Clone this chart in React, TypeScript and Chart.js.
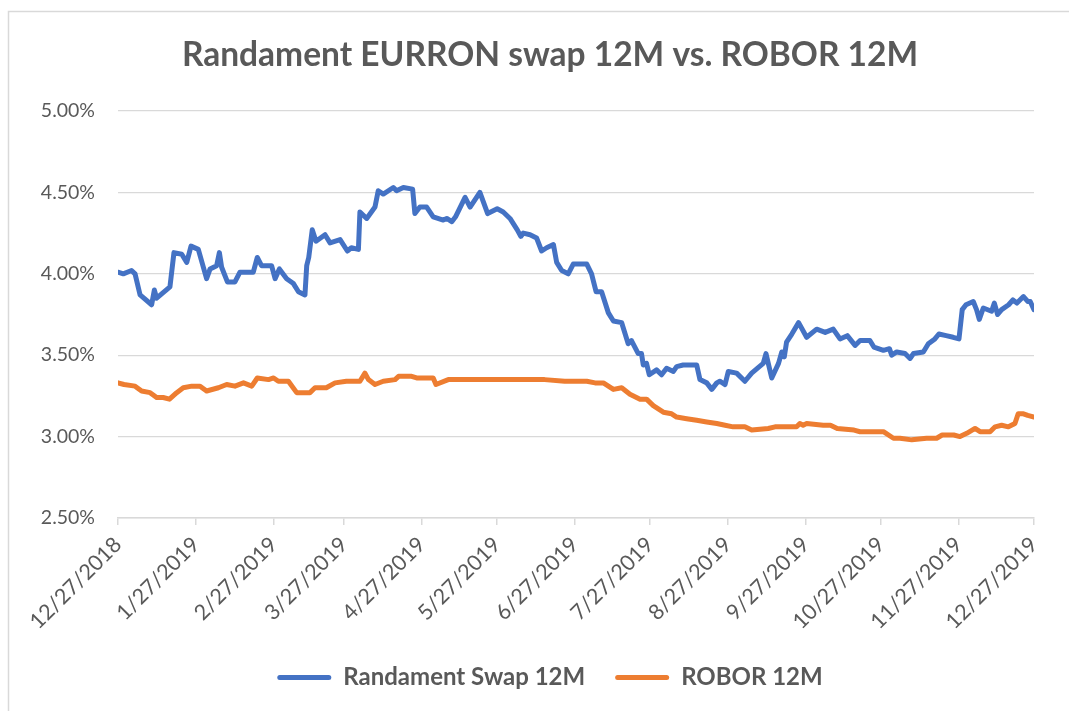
import React, { useEffect, useRef } from 'react';
import { Chart, registerables } from 'chart.js';

Chart.register(...registerables);

// x values are days since 12/27/2018
const swapDays = [
  0, 2.1, 5.4, 6.8, 8.8, 13.4, 14.5, 15.4, 20.7, 22.3, 25.4, 27.4, 29.1, 32, 35.3, 36.7, 39.3, 40.4, 41.3, 43.6,
  46.6, 48.6, 53.9, 55.5, 57.2, 61.2, 62.6, 64.3, 67.2, 69.9, 71.9, 74.5, 75.2, 76, 77.4, 78.9, 82.5, 84.5, 88.5,
  91.4, 93, 95.8, 96.4, 99.1, 102.4, 103.7, 105.7, 109.7, 111, 113.7, 117.4, 118.3, 120.3, 123, 125.6, 129.6, 131,
  133, 134.5, 138.3, 140.3, 144.2, 147.3, 151.1, 153.5, 156.2, 159.1, 160.5, 161.5, 164.2, 166.8, 168.8, 170.8,
  173.5, 174.8, 176.8, 179.4, 181.4, 186.8, 188.7, 190.5, 192.7, 195.4, 197.4, 200.7, 203.3, 204.6, 207.3, 208.6,
  209.3, 210.6, 211.7, 214.6, 216.6, 218.6, 221.3, 222.6, 225.2, 230.6, 231.9, 234.6, 236.6, 238.6, 239.8, 241.9,
  243.2, 246.5, 249.8, 252.5, 257.1, 258.2, 260.5, 263.2, 264.5, 265.5, 266.4, 268.5, 271.2, 274.4, 278.4, 281.8,
  285, 287.7, 290.6, 293.7, 295.7, 299.6, 301.2, 305, 307.4, 308.3, 310.3, 313.6, 315.6, 317, 320.9, 322.9, 325.5,
  327.1, 330, 332.8, 335.1, 336.4, 337.9, 340.8, 342.1, 343.2, 344.8, 348.1, 349.2, 350.5, 352.1, 354.9, 356.6,
  358.2, 360.8, 362.5, 363.5, 365,
];
const swapValues = [
  4.01, 4.0, 4.02, 4.0, 3.87, 3.81, 3.9, 3.85, 3.92, 4.13, 4.12, 4.07, 4.17, 4.15, 3.97, 4.03, 4.05, 4.13, 4.04, 3.95,
  3.95, 4.01, 4.01, 4.1, 4.05, 4.05, 3.97, 4.03, 3.97, 3.94, 3.89, 3.87, 4.05, 4.1, 4.27, 4.2, 4.24, 4.19, 4.21,
  4.14, 4.16, 4.15, 4.38, 4.34, 4.41, 4.51, 4.49, 4.53, 4.51, 4.53, 4.52, 4.37, 4.41, 4.41, 4.35, 4.33, 4.34,
  4.32, 4.35, 4.47, 4.41, 4.5, 4.37, 4.4, 4.38, 4.34, 4.27, 4.23, 4.25, 4.24, 4.22, 4.14, 4.16,
  4.18, 4.07, 4.02, 4.0, 4.06, 4.06, 4.0, 3.89, 3.89, 3.76, 3.71, 3.7, 3.57, 3.59, 3.51, 3.51,
  3.44, 3.45, 3.38, 3.41, 3.38, 3.42, 3.4, 3.43, 3.44, 3.44, 3.35, 3.33, 3.29, 3.33, 3.34, 3.32,
  3.4, 3.39, 3.34, 3.39, 3.45, 3.51, 3.36, 3.45, 3.52, 3.49, 3.58, 3.63, 3.7, 3.61, 3.66, 3.64,
  3.66, 3.6, 3.62, 3.56, 3.59, 3.59, 3.55, 3.53, 3.54, 3.5, 3.52, 3.51, 3.48, 3.51, 3.52, 3.57, 3.6,
  3.63, 3.62, 3.61, 3.6, 3.78, 3.81, 3.83, 3.78, 3.72, 3.79, 3.77, 3.82, 3.75, 3.78, 3.81, 3.84,
  3.82, 3.86, 3.83, 3.83, 3.78,
];

const roborDays = [
  0, 2.4, 6.8, 9.4, 12.8, 15.4, 18, 20.5, 23.4, 26, 29.4, 32.7, 35.3, 40, 43.3, 46.6, 50, 53.3, 55.5, 60, 62, 63.9,
  67.9, 71.2, 75.2, 76.5, 78.5, 83, 86.5, 91, 96.4, 98.4, 99.8, 102.4, 105.7, 110.4, 111.8, 117, 119, 125.6, 126.7,
  131.6, 140, 160, 170, 178, 186.8, 190.1, 193.4, 197.4, 200.7, 204, 208, 210.6, 213.3, 217.3, 220.6, 222.6, 226.6,
  230.6, 234.6, 238.6, 241.9, 245.1, 249.8, 252.5, 259.1, 261.8, 270.4, 271.7, 273, 274.4, 281, 283.9, 286.6, 293.3,
  295.7, 305, 309, 311.6, 316.3, 322.2, 326.2, 328.4, 333, 335.5, 338.2, 341.5, 343.5, 347.5, 349.5, 352.1, 354.8,
  357.4, 358.7, 360.8, 362.5, 365,
];
const roborValues = [
  3.33, 3.32, 3.31, 3.28, 3.27, 3.24, 3.24, 3.23, 3.27, 3.3, 3.31, 3.31, 3.28, 3.3, 3.32, 3.31, 3.33, 3.31, 3.36, 3.35, 3.36, 3.34,
  3.34, 3.27, 3.27, 3.27, 3.3, 3.3, 3.33, 3.34, 3.34, 3.39, 3.35, 3.32, 3.34, 3.35, 3.37, 3.37, 3.36, 3.36, 3.32,
  3.35, 3.35, 3.35, 3.35, 3.34, 3.34, 3.33, 3.33, 3.29, 3.3, 3.26, 3.23, 3.23, 3.19, 3.15, 3.14, 3.12, 3.11,
  3.1, 3.09, 3.08, 3.07, 3.06, 3.06, 3.04, 3.05, 3.06, 3.06, 3.08, 3.07, 3.08, 3.07, 3.07, 3.05, 3.04,
  3.03, 3.03, 2.99, 2.99, 2.98, 2.99, 2.99, 3.01, 3.01, 3.0, 3.02, 3.05, 3.03, 3.03, 3.06, 3.07, 3.06,
  3.08, 3.14, 3.14, 3.13, 3.12,
];

const tickDays = [0, 31, 62, 90, 121, 151, 182, 212, 243, 274, 304, 335, 365];
const tickLabels = [
  '12/27/2018', '1/27/2019', '2/27/2019', '3/27/2019', '4/27/2019', '5/27/2019', '6/27/2019',
  '7/27/2019', '8/27/2019', '9/27/2019', '10/27/2019', '11/27/2019', '12/27/2019',
];
const yTickValues = [2.5, 3.0, 3.5, 4.0, 4.5, 5.0];

const seriesNames = ['Randament Swap 12M', 'ROBOR 12M'];
const seriesColors = ['#4472C4', '#ED7D31'];
const titleText = 'Randament EURRON swap 12M vs. ROBOR 12M';

export default function App() {
  const ref = useRef<HTMLCanvasElement>(null);

  useEffect(() => {
    const TEXT = '#595959';
    const GRID = '#d9d9d9';
    const FONT = 'Lato, "Open Sans", sans-serif';

    const frame = {
      id: 'frame',
      beforeDraw(c: any) {
        const ctx = c.ctx;
        ctx.save();
        ctx.fillStyle = '#ffffff';
        ctx.fillRect(0, 0, c.width, c.height);
        ctx.strokeStyle = GRID;
        ctx.lineWidth = 1.5;
        ctx.strokeRect(8.5, 11.5, 1300, 1000);
        ctx.restore();
      },
    };

    const mk = (days: number[], vals: number[], i: number) => ({
      label: seriesNames[i],
      data: days.map((d, k) => ({ x: d, y: vals[k] })),
      borderColor: seriesColors[i],
      backgroundColor: seriesColors[i],
      borderWidth: 5,
      pointRadius: 0,
      tension: 0,
      borderCapStyle: 'round',
      borderJoinStyle: 'round',
    });

    const chart = new Chart(ref.current as HTMLCanvasElement, {
      type: 'line',
      data: {
        datasets: [mk(swapDays, swapValues, 0), mk(roborDays, roborValues, 1)] as any,
      },
      plugins: [frame],
      options: {
        animation: false,
        responsive: false,
        events: [],
        layout: { padding: { left: 31, right: 0, top: 0, bottom: 11.5 } },
        plugins: {
          title: {
            display: true,
            text: titleText,
            color: TEXT,
            font: { family: FONT, size: 33.5, weight: 'bold', lineHeight: 1.2 },
            padding: { top: 35, bottom: 35.8 },
          },
          legend: {
            position: 'bottom',
            labels: {
              color: TEXT,
              font: { family: FONT, size: 24, weight: 'bold' },
              boxWidth: 54,
              boxHeight: 5,
              padding: 30,
              generateLabels: (c: any) =>
                c.data.datasets.map((ds: any, i: number) => ({
                  text: ds.label,
                  fillStyle: ds.borderColor,
                  strokeStyle: ds.borderColor,
                  lineWidth: 0,
                  borderRadius: 2.5,
                  hidden: false,
                  datasetIndex: i,
                  fontColor: TEXT,
                })),
            },
          },
          tooltip: { enabled: false },
        },
        scales: {
          x: {
            type: 'linear',
            min: 0,
            max: 365,
            afterBuildTicks: (s: any) => {
              s.ticks = tickDays.map((v) => ({ value: v }));
            },
            afterFit: (s: any) => {
              s.height = 117.5;
            },
            ticks: {
              autoSkip: false,
              maxRotation: 45,
              minRotation: 45,
              color: TEXT,
              font: { family: FONT, size: 21.5 },
              padding: 7,
              callback: (_v: any, i: number) => tickLabels[i],
            },
            grid: { drawOnChartArea: false, color: GRID, tickLength: 7, lineWidth: 1.5 },
            border: { color: GRID, width: 1.5 },
          },
          y: {
            min: 2.5,
            max: 5,
            afterBuildTicks: (s: any) => {
              s.ticks = yTickValues.map((v) => ({ value: v }));
            },
            afterFit: (s: any) => {
              s.width = 87;
            },
            ticks: {
              color: TEXT,
              font: { family: FONT, size: 19.5 },
              padding: 23,
              callback: (v: any) => Number(v).toFixed(2) + '%',
            },
            grid: { color: GRID, lineWidth: 1.2, drawTicks: false },
            border: { display: false },
          },
          yRight: {
            position: 'right',
            min: 0,
            max: 1,
            afterFit: (s: any) => {
              s.width = 35;
            },
            ticks: { display: false },
            grid: { display: false, drawTicks: false },
            border: { display: false },
          },
        },
      } as any,
    });
    return () => chart.destroy();
  }, []);

  return (
    <div style={{ position: 'absolute', left: 0, top: 0, width: 1069, height: 711 }}>
      <canvas ref={ref} width={1069} height={711} style={{ display: 'block' }} />
    </div>
  );
}
